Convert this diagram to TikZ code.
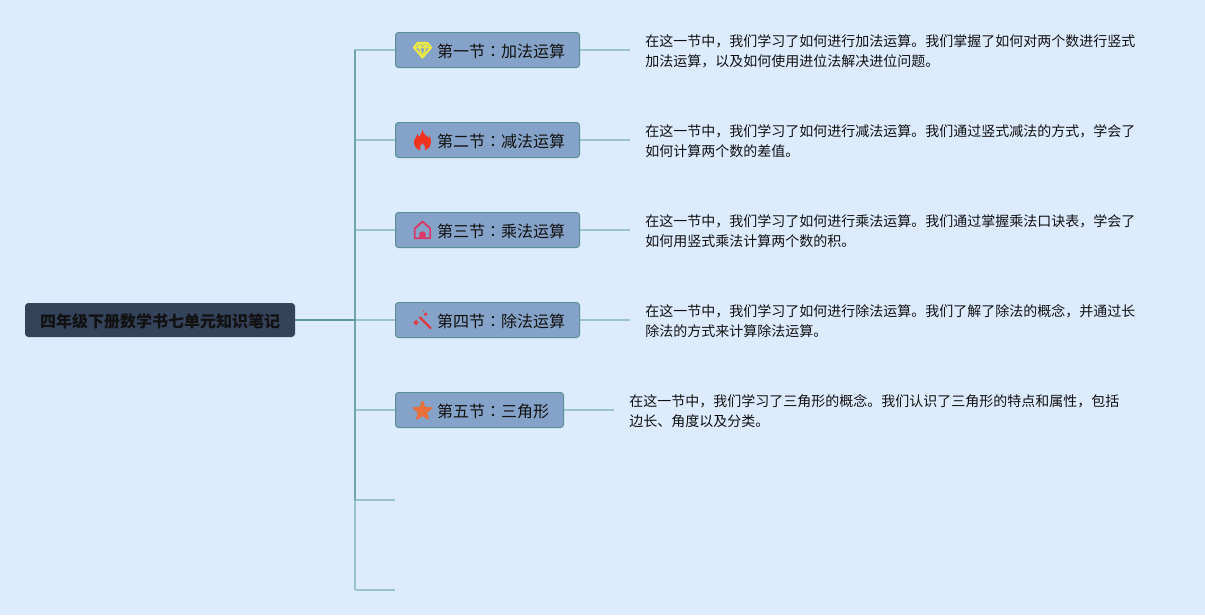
\documentclass[tikz,border=0pt]{standalone}
\usepackage{fontspec}
\setmainfont{Noto Sans CJK SC}
\newfontfamily\colonfont{Noto Sans CJK TC}
\newcommand{\cc}{{\colonfont ：}}
\definecolor{bgc}{HTML}{DCEBFD}
\definecolor{rootfill}{HTML}{34425A}
\definecolor{secfill}{HTML}{85A3C8}
\definecolor{secline}{HTML}{5B9096}
\definecolor{branchc}{HTML}{9BC3CC}
\definecolor{trunkc}{HTML}{6FA6A6}
\definecolor{rootc}{HTML}{5F9A96}
\definecolor{inkc}{HTML}{111111}
\tikzset{
  x=0.75pt,y=-0.75pt,
  rootbox/.style={draw=rootfill,fill=rootfill,rounded corners=2.25pt,line width=0.75pt,minimum width=201.75pt,minimum height=24.75pt,inner sep=0pt,text height=11pt,text depth=0.5pt,text=inkc,font=\fontsize{12}{15}\selectfont\bfseries},
  secbox/.style={draw=secline,fill=secfill,rounded corners=2.25pt,line width=0.75pt,minimum height=26.25pt,inner ysep=0pt,inner xsep=10.875pt,text height=11pt,text depth=0.5pt,anchor=west,text=inkc,font=\fontsize{12}{15}\selectfont},
  detail/.style={anchor=west,inner sep=0pt,align=left,text=inkc,font=\fontsize{10.5}{15}\selectfont},
  branch/.style={draw=branchc,line width=1.2pt},
  trunk/.style={draw=trunkc,line width=1.2pt},
  rootline/.style={draw=rootc,line width=1.5pt},
}
\newcommand{\ic}{\hspace*{20.25pt}}
\begin{document}
\begin{tikzpicture}
\fill[bgc] (0,0) rectangle (1205,615);
\useasboundingbox (0,0) rectangle (1205,615);

\node[rootbox] (root) at (160,320) {四年级下册数学书七单元知识笔记};
\node[secbox] (s1) at (395,50) {\ic 第一节\cc 加法运算};
\node[secbox] (s2) at (395,140) {\ic 第二节\cc 减法运算};
\node[secbox] (s3) at (395,230) {\ic 第三节\cc 乘法运算};
\node[secbox] (s4) at (395,320) {\ic 第四节\cc 除法运算};
\node[secbox] (s5) at (395,410) {\ic 第五节\cc 三角形};

\node[detail] (d1) at (645,51.5) {在这一节中，我们学习了如何进行加法运算。我们掌握了如何对两个数进行竖式\\加法运算，以及如何使用进位法解决进位问题。};
\node[detail] (d2) at (645,141.5) {在这一节中，我们学习了如何进行减法运算。我们通过竖式减法的方式，学会了\\如何计算两个数的差值。};
\node[detail] (d3) at (645,231.5) {在这一节中，我们学习了如何进行乘法运算。我们通过掌握乘法口诀表，学会了\\如何用竖式乘法计算两个数的积。};
\node[detail] (d4) at (645,321.5) {在这一节中，我们学习了如何进行除法运算。我们了解了除法的概念，并通过长\\除法的方式来计算除法运算。};
\node[detail] (d5) at (629,411.5) {在这一节中，我们学习了三角形的概念。我们认识了三角形的特点和属性，包括\\边长、角度以及分类。};

\coordinate (j) at (355,320);
\coordinate (t1) at (355,50);
\coordinate (t6) at (355,500);
\coordinate (t7) at (355,590);
\coordinate (e6) at (395,500);
\coordinate (e7) at (395,590);
\coordinate (o1) at (630,50);
\coordinate (o2) at (630,140);
\coordinate (o3) at (630,230);
\coordinate (o4) at (630,320);
\coordinate (o5) at (614,410);

\foreach \n in {1,...,5} {\draw[branch] (s\n.east) -- (o\n);}
\draw[branch] (t1) -- (s1.west);
\draw[branch] (355,140) -- (s2.west);
\draw[branch] (355,230) -- (s3.west);
\draw[branch] (j) -- (s4.west);
\draw[branch] (355,410) -- (s5.west);
\draw[branch] (t6) -- (e6);
\draw[branch] (t7) -- (e7);
\draw[branch] (t6) -- (t7);
\draw[trunk,line cap=round] (t1) -- (t6);
\draw[rootline] (root.east) -- (j);

% diamond
\begin{scope}[shift={(422.5,50)},line join=round]
  \draw[color={rgb,255:red,236;green,232;blue,70},line width=1.6pt] (-5,-7) -- (5,-7) -- (8.5,-2.5) -- (0,7.5) -- (-8.5,-2.5) -- cycle;
  \draw[color={rgb,255:red,236;green,232;blue,70},line width=1.2pt] (-8.5,-2.5) -- (8.5,-2.5) (-5,-7) -- (-3.2,-2.5) -- (0,7.5) -- (3.2,-2.5) -- (5,-7) (-3.2,-2.5) -- (0,-7) -- (3.2,-2.5);
\end{scope}
% flame
\begin{scope}[shift={(422.5,140)}]
  \fill[color={rgb,255:red,240;green,50;blue,30}]
   (0,-10) .. controls (1,-5) and (5,-4) .. (6.5,-2) .. controls (7,-1) and (7,-3) .. (6.5,-5) .. controls (9,-2) and (9,4) .. (7,7) .. controls (5.5,9) and (3,10) .. (2,10) .. controls (3.5,7) and (2,5) .. (0,3) .. controls (-2,5) and (-3.5,7) .. (-2,10) .. controls (-5,10) and (-8,7) .. (-8.5,3) .. controls (-8.7,-1) and (-6,-3) .. (-5,-6) .. controls (-4.5,-4) and (-4,-3) .. (-3.5,-3) .. controls (-2,-5) and (-1,-7) .. (0,-10) -- cycle;
\end{scope}
% house
\begin{scope}[shift={(422.5,230)},color={rgb,255:red,217;green,56;blue,106}]
  \draw[line width=1.4pt,line join=round] (-7.7,8.3) -- (-7.7,-1.5) -- (0,-8.5) -- (7.7,-1.5) -- (7.7,8.3) -- cycle;
  \fill (-3.2,8.5) -- (-3.2,3.5) .. controls (-3.2,0.8) and (3.2,0.8) .. (3.2,3.5) -- (3.2,8.5) -- cycle;
\end{scope}
% wand
\begin{scope}[shift={(422.5,320)},color={rgb,255:red,224;green,57;blue,63}]
  \draw[line width=1.7pt,line cap=round] (-2.5,-2.5) -- (8,8);
  \fill (-6.5,5.5) -- (-5.3,3.7) -- (-3.5,2.5) -- (-5.3,1.3) -- (-6.5,-0.5) -- (-7.7,1.3) -- (-9.5,2.5) -- (-7.7,3.7) -- cycle;
  \fill (3.2,-5.8) circle (1.8);
  \fill (1,-9) circle (0.6);
\end{scope}
% star
\begin{scope}[shift={(422.5,411)}]
  \fill[color={rgb,255:red,232;green,112;blue,58},draw={rgb,255:red,232;green,112;blue,58},line width=0.8pt,line join=round]
   (90:-10) -- (126:-4.4) -- (162:-10) -- (198:-4.4) -- (234:-10) -- (270:-4.4) -- (306:-10) -- (342:-4.4) -- (18:-10) -- (54:-4.4) -- cycle;
\end{scope}
\end{tikzpicture}
\end{document}
